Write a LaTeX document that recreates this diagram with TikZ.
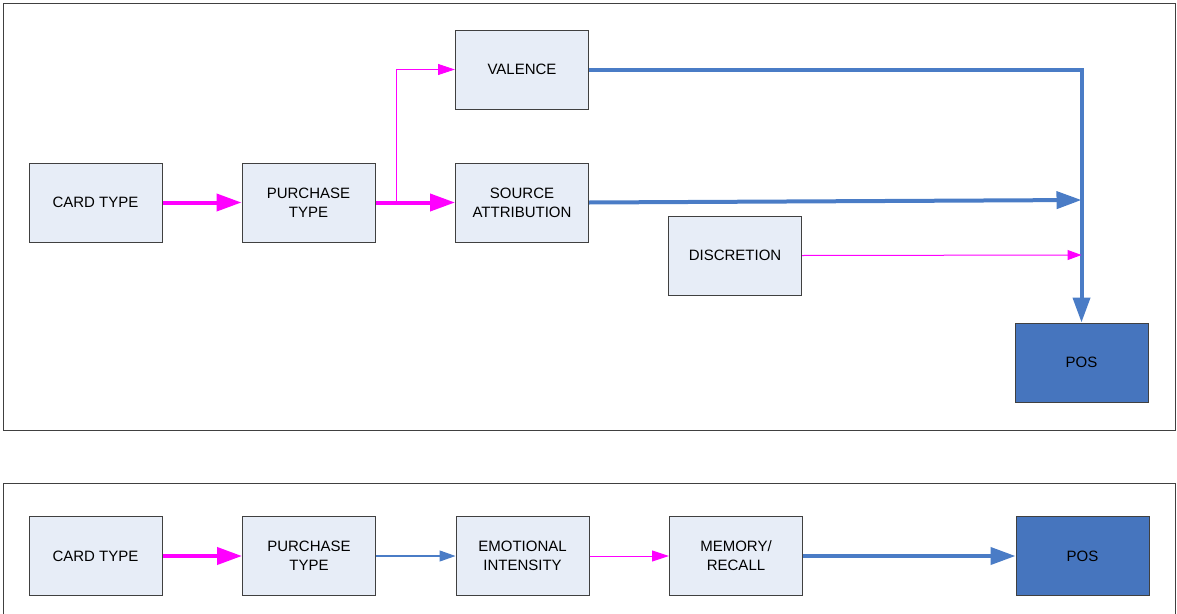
\documentclass[tikz,border=0pt]{standalone}
\usepackage{fontspec}
\setmainfont{Liberation Sans}
\usetikzlibrary{arrows.meta}
\definecolor{boxfill}{HTML}{E7EDF7}
\definecolor{boxline}{HTML}{404040}
\definecolor{posfill}{HTML}{4675BE}
\definecolor{lblue}{HTML}{4A7CC6}
\definecolor{mag}{HTML}{FF00FF}
\tikzset{
  box/.style={draw=boxline, line width=1pt, fill=boxfill, minimum width=133pt, minimum height=79pt,
    inner sep=0pt, align=center, font=\fontsize{15pt}{19pt}\selectfont},
  posbox/.style={box, fill=posfill},
  magthick/.style={draw=mag, line width=4pt, -{Triangle[length=25pt,width=17pt]}},
  magthin/.style={draw=mag, line width=1pt, -{Triangle[length=17pt,width=11pt]}},
  magsmall/.style={draw=mag, line width=1pt, -{Triangle[length=14pt,width=10pt]}},
  bluethick/.style={draw=lblue, line width=4pt, -{Triangle[length=25pt,width=17pt]}},
  bluethin/.style={draw=lblue, line width=1.2pt, -{Triangle[length=16pt,width=11pt]}},
  frame/.style={draw=boxline, line width=1pt}
}
\begin{document}
\begin{tikzpicture}[x=1pt,y=-1pt]
\useasboundingbox (0,0) rectangle (1177,613);
\draw[frame] (3,3) rectangle (1175,430);
\draw[frame] (3,483) rectangle (1175,625);

% top diagram
\node[box] (card) at (95.5,202.5) {CARD TYPE};
\node[box] (purch) at (308.5,202.5) {PURCHASE\\TYPE};
\node[box] (val) at (522,69.5) {VALENCE};
\node[box] (src) at (522,202.5) {SOURCE\\ATTRIBUTION};
\node[box] (disc) at (735,255.5) {DISCRETION};
\node[posbox] (pos) at (1081.5,362.5) {POS};

\coordinate (br) at (396,202.5);
\coordinate (jv) at (1081.5,69.5);
\coordinate (js) at (1081.5,200);
\coordinate (jd) at (1081.5,255);

\draw[magthick] (card.east) -- (purch.west);
\draw[magthick] (purch.east) -- (src.west);
\draw[magthin] (br) |- (val.west);
\draw[bluethick] (val.east) -- (jv) -- (pos.north);
\draw[bluethick] (src.east) -- (js);
\draw[magsmall] (disc.east) -- (jd);

% bottom diagram
\node[box] (card2) at (95.5,556) {CARD TYPE};
\node[box] (purch2) at (309,556) {PURCHASE\\TYPE};
\node[box] (emo) at (522.5,556) {EMOTIONAL\\INTENSITY};
\node[box] (mem) at (736,556) {MEMORY/\\RECALL};
\node[posbox] (pos2) at (1082.5,556) {POS};

\draw[magthick] (card2.east) -- (purch2.west);
\draw[bluethin] (purch2.east) -- (emo.west);
\draw[magthin] (emo.east) -- (mem.west);
\draw[bluethick] (mem.east) -- (pos2.west);
\end{tikzpicture}
\end{document}
